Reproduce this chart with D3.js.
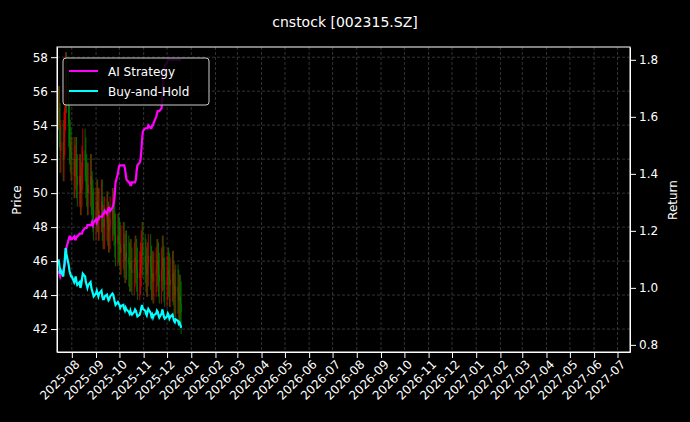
<!DOCTYPE html><html><head><meta charset="utf-8">
<script src="https://cdn.jsdelivr.net/npm/d3@7"></script>
<style>body{margin:0;background:#000}svg{font-family:"DejaVu Sans",sans-serif}</style></head><body>
<svg id="c" width="690" height="422"></svg>
<script>
const startDate="2025-07-15", endDate="2025-12-19";
const closes=[55,54,52.5,53,52,53.5,55,57,56,54,53,52.5,52,
52,51,51.5,52,51,50.5,51,50,50.5,51.5,52.5,52,51,50.5,50,50.5,51,50,49.5,49,48.5,
49,49.5,49,48.5,49,49.5,48.5,48,48,48.5,48.8,48.2,47.8,48,48.5,49,48.8,48.2,47.5,47,47.5,47.2,
47,46.5,46.8,47,46.3,46,46.5,46.2,45.8,45.5,46,45.5,45.3,45.8,46.2,46,45.5,45,45.3,45.8,46.5,47,46.3,
46,45.5,45.2,45.8,46.3,45.6,45,45.3,44.8,45.2,45.5,46,45.8,45.2,44.8,45.5,46.2,45.6,44.9,44.6,
45,45.5,45.2,44.6,44.9,45.3,44.7,44.2,44,44.5,44.2,43.7,43.9,43.5,43];
const strategy=[1.06,1.05,1.04,1.05,1.06,1.07,1.08,1.10,1.14,1.17,
1.18,1.18,1.17,1.17,1.18,1.17,1.17,1.18,1.18,1.19,
1.19,1.19,1.19,1.20,1.21,1.21,1.21,1.22,1.22,1.22,
1.22,1.23,1.22,1.23,1.24,1.23,1.24,1.24,1.25,1.25,
1.25,1.26,1.26,1.27,1.26,1.27,1.28,1.28,1.27,1.28,
1.29,1.30,1.33,1.37,1.40,1.42,1.43,1.43,1.43,1.43,
1.43,1.42,1.40,1.38,1.37,1.37,1.36,1.36,1.37,1.37,
1.37,1.38,1.41,1.43,1.44,1.45,1.48,1.52,1.55,1.56,
1.56,1.56,1.56,1.57,1.56,1.56,1.57,1.57,1.58,1.60,
1.61,1.62,1.62,1.62,1.63,1.68,1.73,1.76,1.78,1.79,
1.80,1.80,1.80,1.80,1.80,1.80,1.80,1.80,1.80,1.80,1.80,1.80,1.80,1.80];
const bhBase=50, wick=1.3;
const priceTicks=[42,44,46,48,50,52,54,56,58];
const returnTicks=[0.8,1.0,1.2,1.4,1.6,1.8];
const title="cnstock [002315.SZ]";

const dates=[];for(let d=new Date(startDate+"T00:00:00");d<=new Date(endDate+"T00:00:00");d.setDate(d.getDate()+1)){if(d.getDay()%6)dates.push(new Date(d));}
const n=Math.min(dates.length,closes.length);
const data=d3.range(n).map(i=>{const c=closes[i],o=i?closes[i-1]:c;return{d:dates[i],o,c,h:Math.max(o,c)+wick,l:Math.min(o,c)-wick,s:strategy[i],b:c/bhBase};});

const L=57,R=630,T=47,B=352;
const svg=d3.select("#c");
const x=d3.scaleTime().domain([new Date(2025,6,13),new Date(2027,6,17)]).range([L,R]);
const y=d3.scaleLinear().domain([40.65,58.6]).range([B,T]);
const y2=d3.scaleLinear().domain([0.775,1.845]).range([B,T]);
const months=d3.timeMonth.range(new Date(2025,7,1),new Date(2027,6,2));
const g=svg.append("g");
g.selectAll(".vg").data(months).join("line").attr("x1",d=>x(d)).attr("x2",d=>x(d)).attr("y1",T).attr("y2",B).attr("stroke","#555").attr("stroke-dasharray","3,2").attr("stroke-width",0.6);
g.selectAll(".hg").data(priceTicks).join("line").attr("x1",L).attr("x2",R).attr("y1",d=>y(d)).attr("y2",d=>y(d)).attr("stroke","#555").attr("stroke-dasharray","3,2").attr("stroke-width",0.6);
const cw=0.8;
g.selectAll(".w").data(data).join("line").attr("x1",d=>x(d.d)).attr("x2",d=>x(d.d)).attr("y1",d=>y(d.h)).attr("y2",d=>y(d.l)).attr("stroke",d=>d.c>=d.o?"#e00000":"#008000").attr("stroke-width",0.8);
g.selectAll(".bd").data(data).join("rect").attr("x",d=>x(d.d)-cw/2).attr("width",cw).attr("y",d=>y(Math.max(d.o,d.c))).attr("height",d=>Math.max(0.5,Math.abs(y(d.o)-y(d.c)))).attr("fill",d=>d.c>=d.o?"#e00000":"#008000");
const ln=k=>d3.line().x(d=>x(d.d)).y(d=>y2(d[k]));
g.append("path").datum(data).attr("d",ln("s")).attr("fill","none").attr("stroke","#ff00ff").attr("stroke-width",2.2);
g.append("path").datum(data).attr("d",ln("b")).attr("fill","none").attr("stroke","#00ffff").attr("stroke-width",2.2);
svg.append("rect").attr("x",L).attr("y",T).attr("width",R-L).attr("height",B-T).attr("fill","none").attr("stroke","#fff").attr("stroke-width",1);
const ax=svg.append("g").attr("transform",`translate(0,${B})`).call(d3.axisBottom(x).tickValues(months).tickFormat(d3.timeFormat("%Y-%m")).tickSizeOuter(0));
ax.selectAll("text").attr("transform","rotate(-45)").style("text-anchor","end").attr("dx","-0.3em").attr("dy","0.5em");
svg.append("g").attr("transform",`translate(${L},0)`).call(d3.axisLeft(y).tickValues(priceTicks).tickSizeOuter(0));
svg.append("g").attr("transform",`translate(${R},0)`).call(d3.axisRight(y2).tickValues(returnTicks).tickFormat(d3.format(".1f")).tickSizeOuter(0));
svg.selectAll(".domain").attr("stroke","#fff");
svg.selectAll(".tick line").attr("stroke","#fff");
svg.selectAll(".tick text").attr("fill","#fff").style("font-size","12px").style("font-family","DejaVu Sans");
svg.append("text").attr("x",345).attr("y",27).attr("text-anchor","middle").attr("fill","#fff").style("font-size","14px").text(title);
svg.append("text").attr("transform","translate(21,200) rotate(-90)").attr("text-anchor","middle").attr("fill","#fff").style("font-size","12px").text("Price");
svg.append("text").attr("transform","translate(677,200) rotate(-90)").attr("text-anchor","middle").attr("fill","#fff").style("font-size","12px").text("Return");
const lg=svg.append("g");
lg.append("rect").attr("x",63).attr("y",58).attr("width",146).attr("height",47).attr("rx",3).attr("fill","#000").attr("fill-opacity",0.85).attr("stroke","#ccc");
[["AI Strategy","#ff00ff"],["Buy-and-Hold","#00ffff"]].forEach((e,i)=>{const yy=71+i*20;
lg.append("line").attr("x1",69).attr("x2",98).attr("y1",yy).attr("y2",yy).attr("stroke",e[1]).attr("stroke-width",2);
lg.append("text").attr("x",108).attr("y",yy+4.5).attr("fill","#fff").style("font-size","12px").text(e[0]);});
</script></body></html>
